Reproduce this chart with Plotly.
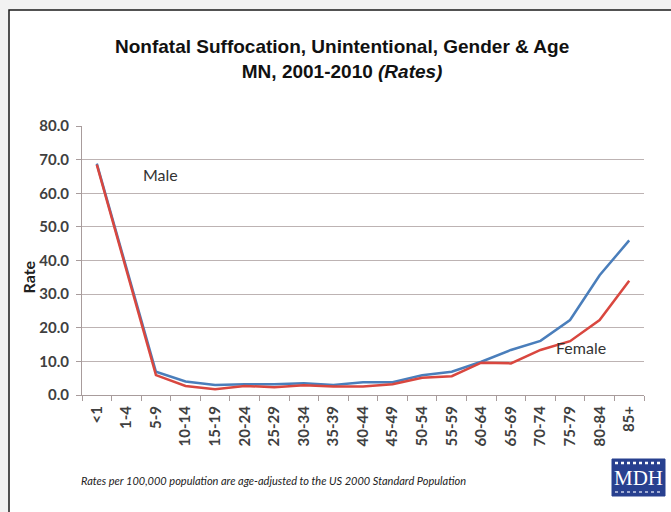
import plotly.graph_objects as go

# ---- data ----
age_groups = ["<1", "1-4", "5-9", "10-14", "15-19", "20-24", "25-29", "30-34", "35-39",
              "40-44", "45-49", "50-54", "55-59", "60-64", "65-69", "70-74", "75-79",
              "80-84", "85+"]
male_rates = [68.8, 38.0, 6.9, 4.0, 3.0, 3.2, 3.2, 3.5, 3.0,
              3.8, 3.8, 5.9, 6.9, 9.9, 13.4, 16.1, 22.3, 35.6, 46.0]
female_rates = [68.5, 37.5, 5.9, 2.7, 1.7, 2.7, 2.3, 2.9, 2.5,
                2.5, 3.2, 5.1, 5.6, 9.6, 9.4, 13.4, 16.0, 22.3, 34.0]
y_ticks = [0, 10, 20, 30, 40, 50, 60, 70, 80]
y_tick_labels = ["%.1f" % v for v in y_ticks]

W, H = 671, 512
L, R, T, B = 82, 27, 126, 117
PW, PH = W - L - R, H - T - B


def px(x):
    return (x - L) / PW


def py(y):
    return (H - B - y) / PH


TICK_FONT = dict(family="Lato, Carlito, Calibri, sans-serif", size=15, color="#404040", weight="bold")

fig = go.Figure()
fig.add_trace(go.Scatter(x=age_groups, y=male_rates, mode="lines", name="Male",
                         line=dict(color="#4A7EBB", width=2.5), showlegend=False))
fig.add_trace(go.Scatter(x=age_groups, y=female_rates, mode="lines", name="Female",
                         line=dict(color="#D9473F", width=2.5), showlegend=False))

fig.update_layout(
    width=W, height=H,
    margin=dict(l=L, r=R, t=T, b=B),
    paper_bgcolor="#f2f2f2",
    plot_bgcolor="white",
    xaxis=dict(type="category", tickangle=-90, tickfont=TICK_FONT,
               showgrid=False, showline=True, linecolor="#a89c9c", linewidth=1,
               ticks="outside", ticklen=5, tickcolor="#a89c9c", tickson="boundaries",
               ticklabelstandoff=4,
               range=[-0.5, len(age_groups) - 0.5], fixedrange=True),
    yaxis=dict(range=[0, 80], tickvals=y_ticks, ticktext=y_tick_labels, tickfont=TICK_FONT,
               showgrid=True, gridcolor="#bdb3b3", gridwidth=1,
               showline=True, linecolor="#a89c9c", linewidth=1,
               ticks="outside", ticklen=5, tickcolor="#a89c9c", zeroline=False,
               ticklabelstandoff=4, fixedrange=True),
    shapes=[
        dict(type="rect", xref="paper", yref="paper", x0=px(9), x1=px(W + 10),
             y0=py(H + 10), y1=py(10), fillcolor="white",
             line=dict(color="#1a1a1a", width=1.5), layer="below"),
        dict(type="rect", xref="paper", yref="paper", x0=px(612), x1=px(665),
             y0=py(496), y1=py(459), fillcolor="#28408f",
             line=dict(color="#28408f", width=1)),
        dict(type="line", xref="paper", yref="paper", x0=px(615), x1=px(662),
             y0=py(463), y1=py(463), line=dict(color="white", width=2.5, dash="dot")),
        dict(type="line", xref="paper", yref="paper", x0=px(615), x1=px(662),
             y0=py(492), y1=py(492), line=dict(color="#c8d0ea", width=1.5, dash="dot")),
    ],
    annotations=[
        dict(text="<b>Nonfatal Suffocation, Unintentional, Gender &amp; Age</b><br>"
                  "<b>MN, 2001-2010 <i>(Rates)</i></b>",
             xref="paper", yref="paper", x=px(342), y=py(59), xanchor="center", yanchor="middle",
             showarrow=False, align="center",
             font=dict(family="Liberation Sans Narrow, Arial Narrow, Liberation Sans, sans-serif",
                       size=19, color="#111111")),
        dict(text="<b>Rate</b>", xref="paper", yref="paper", x=px(27.5), y=py(277),
             xanchor="center", yanchor="middle", showarrow=False, textangle=-90,
             font=dict(family="Lato, sans-serif", size=16, color="#202020")),
        dict(text="Male", xref="paper", yref="paper", x=px(160), y=py(174),
             xanchor="center", yanchor="middle", showarrow=False,
             font=dict(family="Lato, sans-serif", size=16, color="#333333")),
        dict(text="Female", xref="paper", yref="paper", x=px(581), y=py(347),
             xanchor="center", yanchor="middle", showarrow=False,
             font=dict(family="Lato, sans-serif", size=16, color="#333333")),
        dict(text="<i>Rates per 100,000 population are age-adjusted to the US 2000 Standard Population</i>",
             xref="paper", yref="paper", x=px(79), y=py(480), xanchor="left", yanchor="middle",
             showarrow=False, font=dict(family="Lato, sans-serif", size=11, color="#222222")),
        dict(text="MDH", xref="paper", yref="paper", x=px(638.5), y=py(477.5),
             xanchor="center", yanchor="middle", showarrow=False,
             font=dict(family="Liberation Serif, DejaVu Serif, serif", size=21, color="white")),
    ],
)

fig.write_html("out.html", config={"displayModeBar": False},
               post_script="document.body.style.margin='0';")
